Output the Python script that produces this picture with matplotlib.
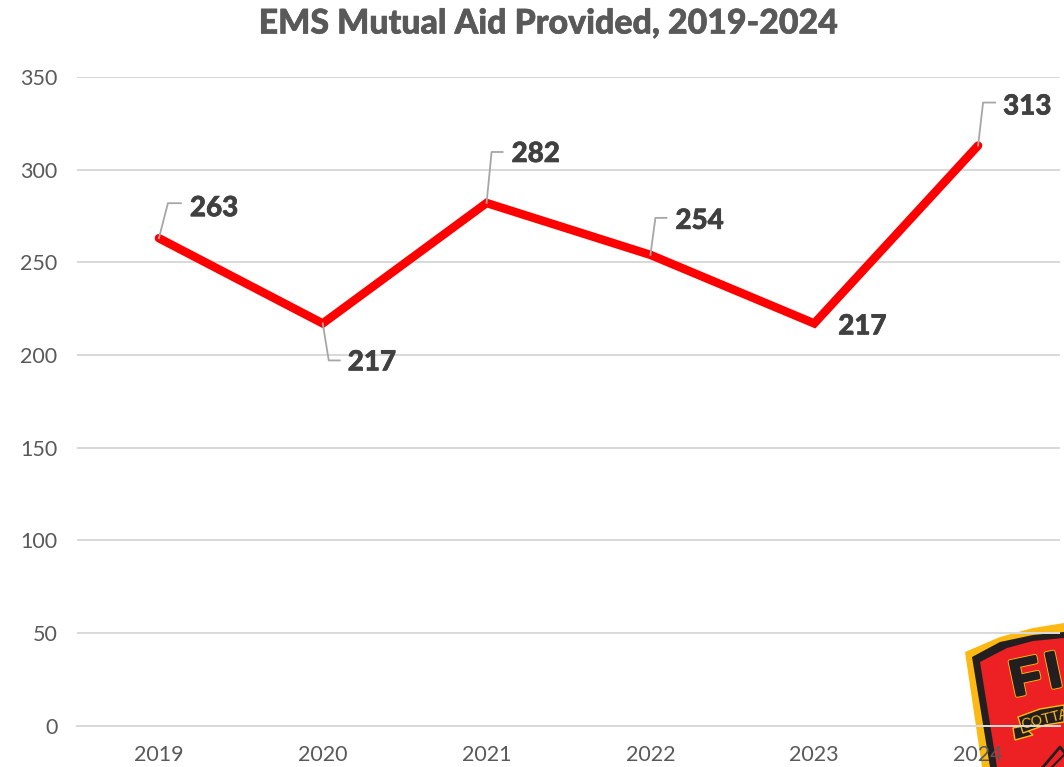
"""EMS mutual aid provided per year, line chart with leader-line data labels and a corner badge."""
import matplotlib

matplotlib.use("Agg")
import matplotlib.patheffects as pe  # noqa: E402
import matplotlib.pyplot as plt  # noqa: E402
from matplotlib.patches import Polygon  # noqa: E402

plt.rcParams["font.family"] = ["Lato", "DejaVu Sans"]

YEARS = ["2019", "2020", "2021", "2022", "2023", "2024"]
CALLS = [263, 217, 282, 254, 217, 313]
Y_TICKS = [0, 50, 100, 150, 200, 250, 300, 350]
TITLE = "EMS Mutual Aid Provided, 2019-2024"

W, H, DPI = 1064, 767, 100
PX = 72 / DPI
GRID = "#D9D9D9"
TICK = "#595959"
LABEL = "#404040"
YELLOW = "#FDB913"
BLACK = "#231F20"

# per point: leader bend + end, then label start, all in px offset from the point (y up)
LEADERS = [((9, 35), (22, 35)), ((6, -37), (17, -37)), ((5, 51), (16, 51)),
           ((5, 37), (16, 37)), None, ((5, 43), (17, 43))]
LABEL_AT = [(31, 30), (25, -39), (25, 49), (25, 34), (24, -3), (25, 39)]


def draw_badge(fig):
    # corner logo, in figure pixels (y down); sits below the chart axes
    ax = fig.add_axes([0, 0, 1, 1], zorder=0)
    ax.set_xlim(0, W)
    ax.set_ylim(H, 0)
    ax.axis("off")
    ax.add_patch(Polygon([(965, 652), (1000, 637), (1033, 628), (1064, 623), (1064, 767), (982, 767)],
                         fc=YELLOW, ec="none"))
    ax.add_patch(Polygon([(972, 657), (1000, 642), (1033, 635), (1064, 632), (1064, 767), (990, 767)],
                         fc=BLACK, ec="none"))
    ax.add_patch(Polygon([(980, 662), (1007, 648), (1033, 641), (1064, 638), (1064, 767), (997, 767)],
                         fc="#ED2024", ec="none"))
    for letter, lx, ly in [("F", 1014, 696), ("I", 1050, 688)]:
        t = ax.text(lx, ly, letter, fontsize=36, fontweight="bold", family="Liberation Sans",
                    color=BLACK, rotation=12, rotation_mode="anchor", ha="left", va="baseline")
        t.set_path_effects([pe.Stroke(linewidth=3.5, foreground=YELLOW),
                            pe.Stroke(linewidth=2.2, foreground=BLACK), pe.Normal()])
    ax.add_patch(Polygon([(1013, 728), (1023, 726), (1033, 735), (1015, 740)],
                         fc=BLACK, ec=YELLOW, lw=1))
    ax.add_patch(Polygon([(1018, 717), (1040, 709), (1064, 705), (1064, 722), (1045, 725), (1023, 733)],
                         fc=BLACK, ec=YELLOW, lw=1))
    ax.text(1022, 729, "COTTA", fontsize=10.5, color=YELLOW, rotation=14,
            family="Liberation Sans", rotation_mode="anchor", ha="left", va="baseline",
            clip_on=True)
    ax.plot([1043, 1060, 1064], [767, 747, 752], color=BLACK, lw=2)
    ax.plot([1052, 1064], [767, 755], color=BLACK, lw=1.5)


def main():
    fig = plt.figure(figsize=(W / DPI, H / DPI), dpi=DPI)
    draw_badge(fig)

    ax = fig.add_axes([77 / W, (H - 725.5) / H, (1060 - 77) / W, (725.5 - 77) / H], zorder=1)
    ax.patch.set_alpha(0)
    x = list(range(len(YEARS)))
    ax.plot(x, CALLS, color="#FF0000", lw=8.5 * PX, solid_capstyle="round",
            solid_joinstyle="miter", zorder=3, clip_on=False)

    ax.set_xlim(-0.5, 5.5)
    ax.set_ylim(0, 350)
    ax.set_xticks(x)
    ax.set_xticklabels(YEARS)
    ax.set_yticks(Y_TICKS)
    ax.grid(axis="y", color=GRID, lw=2 * PX, zorder=1)
    ax.set_axisbelow(True)
    ax.tick_params(axis="both", length=0, labelsize=15.5, labelcolor=TICK)
    ax.tick_params(axis="x", pad=14)
    ax.tick_params(axis="y", pad=14)
    for side, spine in ax.spines.items():
        spine.set_visible(side == "bottom")
        spine.set_color(GRID)
        spine.set_linewidth(2 * PX)

    # Lato's bold is lighter than the reference face, so fatten it a little
    fatten = [pe.withStroke(linewidth=0.45, foreground=LABEL)]
    for i, val in enumerate(CALLS):
        if LEADERS[i]:
            bend, end = LEADERS[i]
            bx, by = ax.transData.transform((i, val))
            fig.add_artist(plt.Line2D([bx / W, (bx + bend[0]) / W, (bx + end[0]) / W],
                                      [by / H, (by + bend[1]) / H, (by + end[1]) / H],
                                      color="#A6A6A6", lw=1.8 * PX, zorder=2,
                                      transform=fig.transFigure))
        ax.annotate(str(val), xy=(i, val), xytext=(LABEL_AT[i][0] * PX, LABEL_AT[i][1] * PX),
                    textcoords="offset points", fontsize=20, fontweight=900,
                    color=LABEL, ha="left", va="center", zorder=5, annotation_clip=False,
                    path_effects=fatten)

    fig.text(548 / W, (H - 23.5) / H, TITLE, fontsize=24.4, fontweight=900, color=TICK,
             ha="center", va="center",
             path_effects=[pe.withStroke(linewidth=0.45, foreground=TICK)])
    fig.savefig("out.png", dpi=DPI)
    plt.close(fig)


if __name__ == "__main__":
    main()
